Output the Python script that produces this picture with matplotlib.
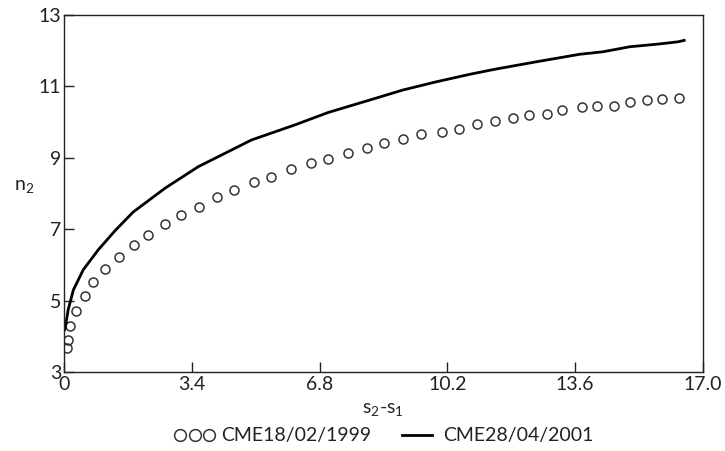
import matplotlib
matplotlib.use("Agg")
import matplotlib.pyplot as plt

plt.rcParams['font.family'] = ['Lato', 'DejaVu Sans']

# CME 18/02/1999 (circles)
x_1999 = [0.07, 0.10, 0.16, 0.31, 0.56, 0.78, 1.10, 1.46, 1.86, 2.24,
          2.68, 3.11, 3.59, 4.07, 4.53, 5.05, 5.52, 6.04, 6.57, 7.03,
          7.55, 8.07, 8.52, 9.02, 9.51, 10.05, 10.51, 10.98, 11.46, 11.95,
          12.38, 12.84, 13.26, 13.77, 14.19, 14.64, 15.07, 15.50, 15.90, 16.36]
n_1999 = [3.66, 3.90, 4.29, 4.71, 5.14, 5.51, 5.89, 6.22, 6.55, 6.84,
          7.15, 7.39, 7.63, 7.89, 8.10, 8.31, 8.46, 8.68, 8.85, 8.96,
          9.14, 9.27, 9.41, 9.53, 9.66, 9.73, 9.80, 9.95, 10.03, 10.11,
          10.20, 10.22, 10.33, 10.41, 10.44, 10.46, 10.57, 10.61, 10.64, 10.68]

# CME 28/04/2001 (solid line)
x_2001 = [0.0, 0.03, 0.11, 0.25, 0.51, 0.91, 1.35, 1.84, 2.69, 3.57,
          4.99, 6.14, 7.03, 8.14, 9.02, 9.91, 10.80, 11.46, 12.57, 13.72,
          14.34, 15.05, 15.85, 16.34, 16.50]
n_2001 = [4.15, 4.22, 4.74, 5.30, 5.86, 6.42, 6.95, 7.48, 8.15, 8.75,
          9.50, 9.92, 10.27, 10.62, 10.90, 11.13, 11.34, 11.48, 11.69, 11.90,
          11.97, 12.11, 12.19, 12.25, 12.29]

x_ticks = [0, 3.4, 6.8, 10.2, 13.6, 17.0]
x_tick_labels = ['0', '3.4', '6.8', '10.2', '13.6', '17.0']
y_ticks = [3, 5, 7, 9, 11, 13]
y_tick_labels = ['3', '5', '7', '9', '11', '13']

label_1999 = 'CME18/02/1999'
label_2001 = 'CME28/04/2001'

fig = plt.figure(figsize=(7.25, 4.51), dpi=100)
ax = fig.add_axes([64 / 725, 1 - 372 / 451, (703 - 64) / 725, (372 - 15) / 451])

ax.plot(x_1999, n_1999, linestyle='none', marker='o', markersize=6.5,
        markerfacecolor='none', markeredgecolor='#333333', markeredgewidth=1.1,
        label=label_1999)
ax.plot(x_2001, n_2001, color='black', linewidth=2.0, label=label_2001)

ax.set_xlim(0, 17)
ax.set_ylim(3, 13)
ax.set_xticks(x_ticks)
ax.set_xticklabels(x_tick_labels)
ax.set_yticks(y_ticks)
ax.set_yticklabels(y_tick_labels)
ax.tick_params(direction='in', length=7, width=1, colors='#222222',
               labelsize=14, pad=2)
ax.tick_params(axis='x', pad=3)
for s in ax.spines.values():
    s.set_color('#222222')
    s.set_linewidth(1.0)

fig.text(383 / 725, 1 - 410 / 451, r'$\mathregular{s_2}$-$\mathregular{s_1}$',
         ha='center', va='center', fontsize=14, color='#222222')
fig.text(24 / 725, 1 - 187 / 451, r'$\mathregular{n_2}$',
         ha='center', va='center', fontsize=14, color='#222222')

fig.legend(loc='center', bbox_to_anchor=(384 / 725, 1 - 436 / 451), ncol=2,
           frameon=False, numpoints=3, fontsize=14, handlelength=2.1,
           handletextpad=0.3, columnspacing=1.3, markerscale=1.3,
           labelcolor='#222222')

fig.savefig('out.png', dpi=100)
